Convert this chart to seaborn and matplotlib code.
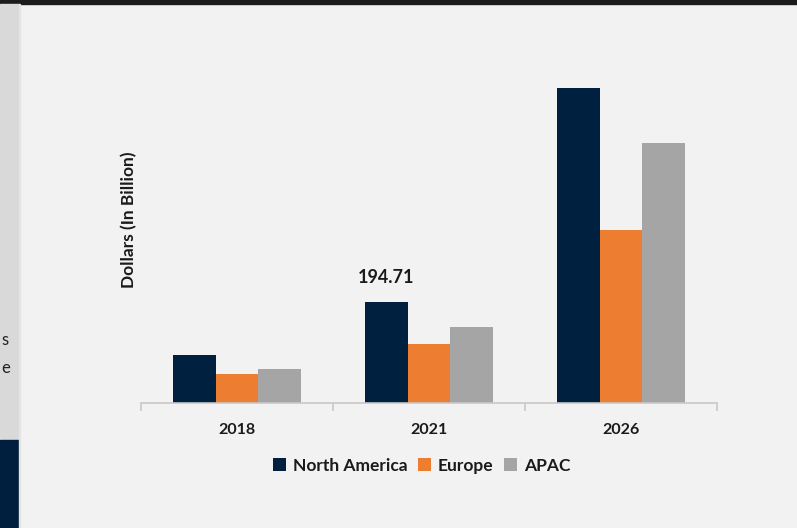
import matplotlib
matplotlib.use("Agg")
import matplotlib.pyplot as plt
import matplotlib.patches as mpatches
import seaborn as sns
import pandas as pd

years = ["2018", "2021", "2026"]
regions = ["North America", "Europe", "APAC"]
north_america = [92.5, 194.71, 607.3]
europe = [55.9, 114.3, 333.6]
apac = [66.7, 147.7, 501.3]
colors = ["#00203f", "#ed7d31", "#a5a5a5"]
ylabel = "Dollars (In Billion)"
annotation = "194.71"

rows = []
for r, vals in zip(regions, [north_america, europe, apac]):
    for y, v in zip(years, vals):
        rows.append({"Year": y, "Region": r, "Value": v})
df = pd.DataFrame(rows)

sns.set_theme(style="white")
plt.rcParams["font.family"] = ["Lato", "DejaVu Sans"]

W, H = 797, 528
fig = plt.figure(figsize=(W / 100, H / 100), dpi=100)
fig.patch.set_facecolor("#f2f2f2")

# decorative frame pieces from screenshot
fig.add_artist(mpatches.Rectangle((0, 1 - 4 / H), 1, 4 / H, transform=fig.transFigure,
                                  color="#1c1c1c", zorder=0))
fig.add_artist(mpatches.Rectangle((0, 88 / H), 19 / W, (440 - 4) / H, transform=fig.transFigure,
                                  color="#d9d9d9", zorder=0))
fig.add_artist(mpatches.Rectangle((0, 0), 19 / W, 88 / H, transform=fig.transFigure,
                                  color="#001f3f", zorder=0))
fig.add_artist(mpatches.Rectangle((19 / W, 0), 1 / W, 1 - 4 / H, transform=fig.transFigure,
                                  color="#e4e4e4", zorder=0))
fig.text(1 / W, 1 - 340 / H, "s", fontsize=12, color="#222222", va="center", ha="left")
fig.text(1 / W, 1 - 368 / H, "e", fontsize=12, color="#222222", va="center", ha="left")

ax = fig.add_axes([141 / W, (H - 403.3) / H, 576 / W, (403.3 - 60) / H])
ax.set_facecolor("#f2f2f2")
sns.barplot(data=df, x="Year", y="Value", hue="Region", order=years, hue_order=regions,
            palette=colors, width=0.667, ax=ax, saturation=1, legend=True, linewidth=0)

ax.set_xlim(-0.5, 2.5)
ax.set_ylim(0, (403.3 - 60) * 1.928)
for s in ["top", "right", "left"]:
    ax.spines[s].set_visible(False)
ax.spines["bottom"].set_color("#c8c8c8")
ax.spines["bottom"].set_linewidth(1.2)
ax.set_yticks([])
ax.set_xlabel("")
ax.set_ylabel(ylabel, fontsize=12.5, fontweight="bold", color="#1a1a1a")
ax.yaxis.set_label_coords(-4 / 576, 0.535)
ax.set_xticks([-0.5, 0.5, 1.5, 2.5], minor=True)
ax.tick_params(axis="x", which="minor", length=6, color="#c8c8c8", width=1.2, bottom=True)
ax.tick_params(axis="x", which="major", length=0, pad=14, labelsize=11.5, labelcolor="#1a1a1a")
for t in ax.get_xticklabels():
    t.set_fontweight("bold")

# annotation on North America 2021 bar
na_bars = ax.containers[0]
b = na_bars[1]
ax.annotate(annotation, (b.get_x() + b.get_width() / 2, b.get_height()),
            xytext=(0, 12), textcoords="offset points", ha="center", va="bottom",
            fontsize=13, fontweight="bold", color="#1a1a1a")

leg = ax.legend(loc="upper center", bbox_to_anchor=(0.487, -0.113), ncol=3, frameon=False,
                fontsize=12.5, handlelength=0.75, handleheight=0.75, handletextpad=0.4,
                columnspacing=0.6)
for t in leg.get_texts():
    t.set_fontweight("bold")
    t.set_color("#1a1a1a")

fig.savefig("out.png", dpi=100, facecolor=fig.get_facecolor())
